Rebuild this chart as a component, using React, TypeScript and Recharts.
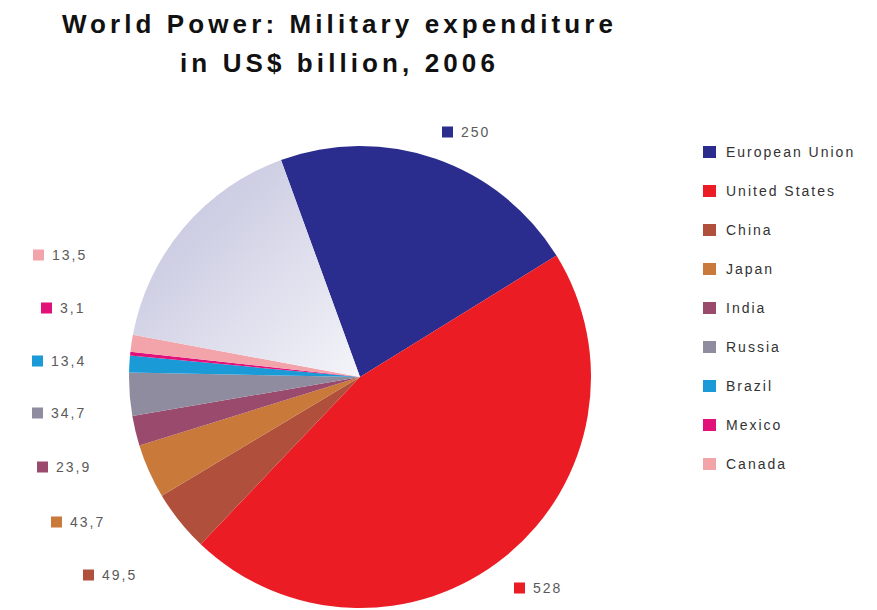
import React from 'react';
import { PieChart, Pie, Cell, Legend } from 'recharts';

const countries = ['European Union', 'United States', 'China', 'Japan', 'India', 'Russia', 'Brazil', 'Mexico', 'Canada', 'Rest of world'];
const spending = [250, 528, 49.5, 43.7, 23.9, 34.7, 13.4, 3.1, 13.5, 190];
const labelText = ['250', '528', '49,5', '43,7', '23,9', '34,7', '13,4', '3,1', '13,5'];

const colors = ['#2b2d8e', '#ec1c24', '#b0503c', '#c9793a', '#9a4a6c', '#8e8c9e', '#1a9ad6', '#e2117a', '#f3a3aa', 'url(#restFill)'];

// where each value tag sits (square's left edge, vertical centre)
const labelSpots: [number, number][] = [
  [442, 132],
  [514, 588],
  [83, 575],
  [51, 522],
  [37, 467],
  [32, 413],
  [32, 361],
  [41, 308],
  [33, 255],
];

const data = countries.map((name, i) => ({ name, value: spending[i] }));

const renderLabel = (props: any) => {
  const { index } = props;
  if (index >= labelSpots.length) return null;
  const [x, y] = labelSpots[index];
  return (
    <g>
      <rect x={x} y={y - 5.5} width={11} height={11} fill={colors[index]} />
      <text
        x={x + 19}
        y={y}
        dy={5}
        fontSize={14}
        letterSpacing={2}
        fill="#5a5a5a"
        fontFamily="'Liberation Sans', Arial, sans-serif"
      >
        {labelText[index]}
      </text>
    </g>
  );
};

const LegendBox = () => (
  <div style={{ fontFamily: "'Liberation Sans', Arial, sans-serif", fontSize: 14, color: '#333', letterSpacing: 2 }}>
    {countries.slice(0, 9).map((name, i) => (
      <div key={name} style={{ display: 'flex', alignItems: 'center', height: 39.1, whiteSpace: 'nowrap' }}>
        <span style={{ width: 13, height: 12, background: colors[i], marginRight: 10, display: 'inline-block', flexShrink: 0 }} />
        <span>{name}</span>
      </div>
    ))}
  </div>
);

export default function App() {
  return (
    <div style={{ position: 'absolute', left: 0, top: 0, width: 877, height: 610, background: '#fff', overflow: 'hidden' }}>
      <div
        style={{
          position: 'absolute',
          left: 0,
          top: 5,
          width: 679,
          textAlign: 'center',
          fontFamily: "'Liberation Sans', Arial, sans-serif",
          fontWeight: 'bold',
          fontSize: 26,
          lineHeight: '39px',
          letterSpacing: 4.1,
          color: '#111',
        }}
      >
        World Power: Military expenditure
        <br />
        in US$ billion, 2006
      </div>
      <PieChart width={877} height={610} margin={{ top: 0, right: 0, bottom: 0, left: 0 }}>
        <defs>
          <linearGradient id="restFill" x1="0" y1="0" x2="1" y2="1">
            <stop offset="0%" stopColor="#bebedb" />
            <stop offset="100%" stopColor="#f4f4f9" />
          </linearGradient>
        </defs>
        <Pie
          data={data}
          dataKey="value"
          nameKey="name"
          cx={360}
          cy={377}
          outerRadius={231}
          startAngle={110}
          endAngle={-250}
          stroke="none"
          label={renderLabel}
          labelLine={false}
          isAnimationActive={false}
        >
          {data.map((d, i) => (
            <Cell key={d.name} fill={colors[i]} />
          ))}
        </Pie>
        <Legend
          layout="vertical"
          align="right"
          verticalAlign="top"
          content={<LegendBox />}
          wrapperStyle={{ position: 'absolute', left: 703, top: 132, width: 174 }}
        />
      </PieChart>
    </div>
  );
}
